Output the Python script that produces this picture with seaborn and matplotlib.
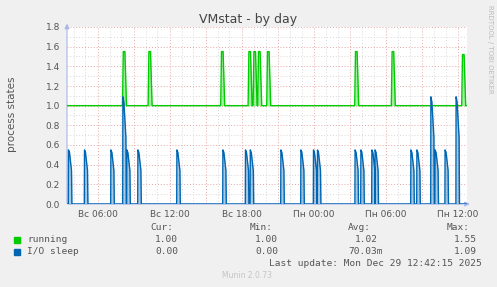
import matplotlib
matplotlib.use("Agg")
import matplotlib.pyplot as plt
import numpy as np
import pandas as pd
import seaborn as sns

# ---------------- data ----------------
T_START = "2025-12-28 03:27:30"
T_END = "2025-12-29 12:47:30"

RUN_BASE = 1.0
RUN_SPIKE_TIMES = ["2025-12-28 08:05", "2025-12-28 10:13", "2025-12-28 16:16",
                   "2025-12-28 18:33", "2025-12-28 18:58", "2025-12-28 19:21",
                   "2025-12-28 20:06", "2025-12-29 03:26", "2025-12-29 06:29",
                   "2025-12-29 12:21"]
RUN_SPIKE_PEAKS = [1.55, 1.55, 1.55, 1.55, 1.55, 1.55, 1.55, 1.55, 1.55, 1.52]

IO_BASE = 0.0
IO_SPIKE_TIMES = ["2025-12-28 03:34", "2025-12-28 04:54", "2025-12-28 07:06",
                  "2025-12-28 08:06", "2025-12-28 08:26", "2025-12-28 09:21",
                  "2025-12-28 12:36", "2025-12-28 16:26", "2025-12-28 18:19",
                  "2025-12-28 18:43", "2025-12-28 21:16", "2025-12-28 22:56",
                  "2025-12-28 23:59", "2025-12-29 00:19", "2025-12-29 03:27",
                  "2025-12-29 03:56", "2025-12-29 04:51", "2025-12-29 05:07",
                  "2025-12-29 08:06", "2025-12-29 08:36", "2025-12-29 09:46",
                  "2025-12-29 10:07", "2025-12-29 10:57", "2025-12-29 11:52"]
IO_SPIKE_PEAKS = [0.55, 0.55, 0.55, 1.09, 0.55, 0.55, 0.55, 0.55, 0.55, 0.55,
                  0.55, 0.55, 0.55, 0.55, 0.55, 0.55, 0.55, 0.55, 0.55, 0.55,
                  1.09, 0.55, 0.55, 1.09]

TICK_TIMES = ["2025-12-28 06:00", "2025-12-28 12:00", "2025-12-28 18:00",
              "2025-12-29 00:00", "2025-12-29 06:00", "2025-12-29 12:00"]
TICK_LABELS = ["Вс 06:00", "Вс 12:00", "Вс 18:00", "Пн 00:00", "Пн 06:00", "Пн 12:00"]

SERIES = ["running", "I/O sleep"]
CUR = ["1.00", "0.00"]
MIN = ["1.00", "0.00"]
AVG = ["1.02", "70.03m"]
MAX = ["1.55", "1.09"]
LAST_UPDATE = "Last update: Mon Dec 29 12:42:15 2025"

TITLE = "VMstat - by day"
YLABEL = "process states"

# --------------- style ----------------
GREEN = "#00cc00"
BLUE = "#0066b3"
TXT = "#555555"
W, H = 497, 287

sns.set_style("white")
plt.rcParams["font.family"] = ["DejaVu Sans"]

fig = plt.figure(figsize=(W / 100, H / 100), dpi=100, facecolor="#f0f0f0")
x0, x1, yb, yt = 67, 467, 204, 27
ax = fig.add_axes([x0 / W, 1 - yb / H, (x1 - x0) / W, (yb - yt) / H])
ax.set_facecolor("white")
for s in ax.spines.values():
    s.set_visible(False)

t0 = pd.Timestamp(T_START)
t1 = pd.Timestamp(T_END)

# spike shapes (minutes offset, fraction of peak) - drawing style only
RUN_SHAPE = [(0, 0.0), (4, 1.0), (12, 1.0), (20, 0.0)]
IO_SHAPE = [(0, 0.0), (1, 1.0), (6, 0.95), (16, 0.62), (18, 0.0)]


def build(base, times, peaks, shape):
    xs = [t0]
    ys = [base]
    for t, p in zip(times, peaks):
        tt = pd.Timestamp(t)
        for m, f in shape:
            xs.append(tt + pd.Timedelta(minutes=m))
            ys.append(base + f * (p - base))
    xs.append(t1)
    ys.append(base)
    return pd.DataFrame({"time": xs, "value": ys})


run_df = build(RUN_BASE, RUN_SPIKE_TIMES, RUN_SPIKE_PEAKS, RUN_SHAPE)
io_df = build(IO_BASE, IO_SPIKE_TIMES, IO_SPIKE_PEAKS, IO_SHAPE)

# grid
hours = pd.date_range(t0.ceil("h"), t1, freq="h")
for h in hours:
    major = (h.hour % 3 == 0)
    ax.axvline(h, color="#e6a8a8" if major else "#d8d8d8", lw=0.7,
               ls=(0, (1, 2)), zorder=0)
for v in np.arange(0.1, 1.81, 0.1):
    major = (round(v * 10) % 2 == 0)
    ax.axhline(v, color="#e6a8a8" if major else "#d8d8d8", lw=0.7,
               ls=(0, (1, 2)), zorder=0)

# fills (light interior)
ax.fill_between(run_df["time"], RUN_BASE, run_df["value"], color=GREEN,
                alpha=0.35, lw=0, zorder=1)
ax.fill_between(io_df["time"], IO_BASE, io_df["value"], color=BLUE,
                alpha=0.35, lw=0, zorder=1)

sns.lineplot(data=run_df, x="time", y="value", sort=False, estimator=None,
             color=GREEN, lw=1.0, ax=ax, zorder=3)
sns.lineplot(data=io_df, x="time", y="value", sort=False, estimator=None,
             color=BLUE, lw=1.0, ax=ax, zorder=3)

ax.set_xlim(t0, t1)
ax.set_ylim(0, 1.8)
ax.set_xlabel("")
ax.set_ylabel("")
ax.set_xticks([pd.Timestamp(t) for t in TICK_TIMES])
ax.set_xticklabels(TICK_LABELS)
ax.set_yticks(np.round(np.arange(0, 1.81, 0.2), 1))
ax.set_yticklabels([f"{v:.1f}" for v in np.arange(0, 1.81, 0.2)])
ax.tick_params(axis="both", length=0, labelsize=6.5, colors=TXT)
ax.tick_params(axis="x", pad=4)
ax.tick_params(axis="y", pad=5)

# axes with arrows
axc = "#a9b6e8"
ax.annotate("", xy=(1.014, 0), xytext=(-0.005, 0), xycoords="axes fraction",
            arrowprops=dict(arrowstyle="-|>", color=axc, lw=0.8, mutation_scale=7),
            annotation_clip=False, zorder=2)
ax.annotate("", xy=(0, 1.035), xytext=(0, -0.01), xycoords="axes fraction",
            arrowprops=dict(arrowstyle="-|>", color=axc, lw=0.8, mutation_scale=7),
            annotation_clip=False, zorder=2)


def ftxt(x, y, s, **kw):
    fig.text(x / W, 1 - y / H, s, **kw)


ftxt(248, 20, TITLE, ha="center", va="center", fontsize=9, color="#444444")
ftxt(12, 114, YLABEL, ha="center", va="center", rotation=90, fontsize=7.5, color=TXT)
ftxt(490, 5, "RRDTOOL / TOBI OETIKER", ha="center", va="top", rotation=-90,
     fontsize=5, color="#bbbbbb")

mono = dict(family="DejaVu Sans Mono", fontsize=6.8, color=TXT, va="center")
ftxt(173, 228, "Cur:", ha="right", **mono)
ftxt(273, 228, "Min:", ha="right", **mono)
ftxt(371, 228, "Avg:", ha="right", **mono)
ftxt(470, 228, "Max:", ha="right", **mono)
colors = [GREEN, BLUE]
for i, name in enumerate(SERIES):
    y = 240 + i * 12
    fig.patches.append(plt.Rectangle(((14) / W, 1 - (y + 2.8) / H), 5.5 / W, 5.5 / H,
                                     transform=fig.transFigure, color=colors[i]))
    ftxt(27, y, name, ha="left", **mono)
    ftxt(178, y, CUR[i], ha="right", **mono)
    ftxt(278, y, MIN[i], ha="right", **mono)
    ftxt(383 if AVG[i].endswith("m") else 377.5, y, AVG[i], ha="right", **mono)
    ftxt(477, y, MAX[i], ha="right", **mono)
ftxt(482, 264, LAST_UPDATE, ha="right", **mono)
ftxt(247, 276, "Munin 2.0.73", ha="center", va="center", fontsize=5.5, color="#c4c4c4")

fig.savefig("out.png", dpi=100, facecolor=fig.get_facecolor())
